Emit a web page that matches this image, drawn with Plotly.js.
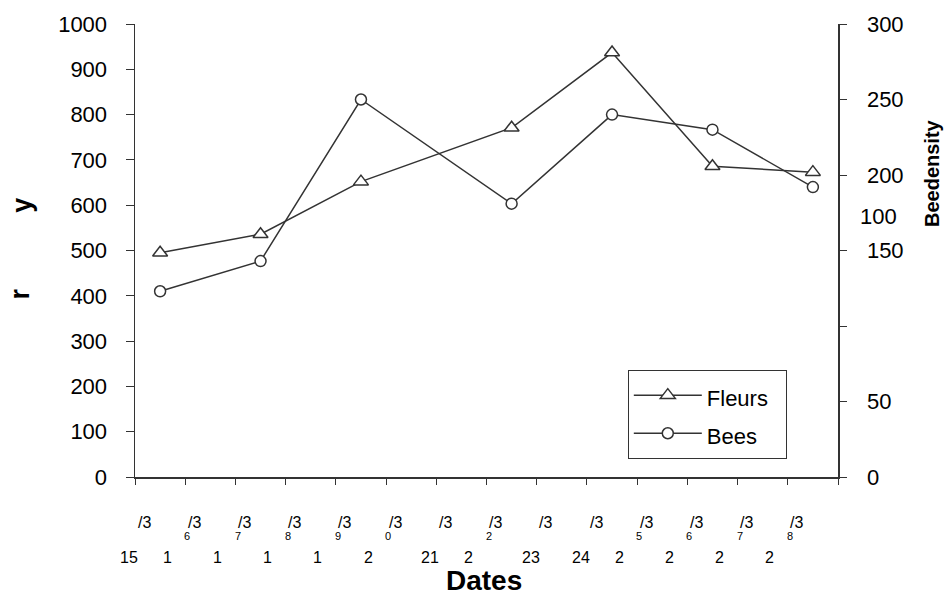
<!DOCTYPE html>
<html>
<head>
<meta charset="utf-8">
<script src="https://cdn.plot.ly/plotly-3.0.1.min.js"></script>
<style>html,body{margin:0;padding:0;background:#fff;}#chart{width:946px;height:598px;}</style>
</head>
<body>
<div id="chart"></div>
<script>
// Categories (dates on x axis)
const dates = ['15/3','16/3','17/3','18/3','19/3','20/3','21/3','22/3','23/3','24/3','25/3','26/3','27/3','28/3'];
// Garbled tick label pieces as printed in the reference
const labelTop = ['/3','/3','/3','/3','/3','/3','/3','/3','/3','/3','/3','/3','/3','/3'];
const labelMid = ['','6','7','8','9','0','','2','','','5','6','7','8'];
const labelBot = ['15','1','1','1','1','2','21','2','23','24','2','2','2','2'];

// Observation dates
const obsDates = ['15/3','17/3','19/3','22/3','24/3','26/3','28/3'];
// Series values
const fleurs = [495, 536, 652, 771, 937, 686, 673];   // left axis
const bees   = [123, 143, 250, 181, 240, 230, 192];   // right axis
const seriesNames = ['Fleurs', 'Bees'];

// Axis ticks
const leftTicks = [0,100,200,300,400,500,600,700,800,900,1000];
const rightTicks = [0,50,100,150,200,250,300];
const rightTickText = ['0','50','','150','200','250','300'];
const strayRightLabel = '100';

const FONT = 'Liberation Sans, Arial, sans-serif';
const INK = '#333333';
const legendName = s => '<span style="font-size:22px">' + s + '&nbsp;&nbsp;</span>';

const traces = [
  {
    x: obsDates, y: fleurs, name: legendName(seriesNames[0]), type: 'scatter', mode: 'lines+markers',
    line: {color: INK, width: 1.5},
    marker: {symbol: 'triangle-up', size: 13, color: '#ffffff', line: {color: INK, width: 1.5}},
    xaxis: 'x', yaxis: 'y'
  },
  {
    x: obsDates, y: bees, name: legendName(seriesNames[1]), type: 'scatter', mode: 'lines+markers',
    line: {color: INK, width: 1.5},
    marker: {symbol: 'circle', size: 11, color: '#ffffff', line: {color: INK, width: 1.5}},
    xaxis: 'x', yaxis: 'y2'
  }
];

const annotations = [];
dates.forEach((d, i) => {
  annotations.push({xref: 'x', yref: 'paper', x: d, y: 0, text: labelTop[i], showarrow: false,
    xanchor: 'center', yanchor: 'middle', xshift: -16, yshift: -45, font: {family: FONT, size: 16, color: '#000'}});
  if (labelMid[i]) annotations.push({xref: 'x', yref: 'paper', x: d, y: 0, text: labelMid[i], showarrow: false,
    xanchor: 'center', yanchor: 'middle', xshift: -23, yshift: -59, font: {family: FONT, size: 11, color: '#000'}});
  annotations.push({xref: 'x', yref: 'paper', x: d, y: 0, text: labelBot[i], showarrow: false,
    xanchor: 'center', yanchor: 'middle', xshift: labelBot[i].length > 1 ? -31 : -43, yshift: -80,
    font: {family: FONT, size: 16, color: '#000'}});
});
annotations.push({xref: 'paper', yref: 'paper', x: 0.497, y: -0.228, text: '<b>Dates</b>', showarrow: false,
  xanchor: 'center', yanchor: 'middle', font: {family: FONT, size: 28, color: '#000'}});
annotations.push({xref: 'paper', yref: 'paper', x: -0.160, y: 0.600, text: '<b>y</b>', textangle: -90, showarrow: false,
  xanchor: 'center', yanchor: 'middle', font: {family: FONT, size: 27, color: '#000'}});
annotations.push({xref: 'paper', yref: 'paper', x: -0.163, y: 0.404, text: '<b>r</b>', textangle: -90, showarrow: false,
  xanchor: 'center', yanchor: 'middle', font: {family: FONT, size: 27, color: '#000'}});
annotations.push({xref: 'paper', yref: 'paper', x: 1.1337, y: 0.671, text: '<b>Beedensity</b>', textangle: -90, showarrow: false,
  xanchor: 'center', yanchor: 'middle', font: {family: FONT, size: 20, color: '#000'}});
annotations.push({xref: 'paper', yref: 'paper', x: 1, y: 0.574, text: strayRightLabel, showarrow: false,
  xanchor: 'left', yanchor: 'middle', xshift: 20, font: {family: FONT, size: 22, color: '#000'}});

const layout = {
  width: 946, height: 598,
  margin: {l: 135, r: 108, t: 24, b: 121, pad: 0},
  paper_bgcolor: '#ffffff', plot_bgcolor: '#ffffff',
  font: {family: FONT, color: '#000'},
  showlegend: true,
  legend: {x: 0.701, y: 0.236, xanchor: 'left', yanchor: 'top', bgcolor: '#ffffff',
    bordercolor: INK, borderwidth: 1, font: {family: FONT, size: 27, color: '#000'},
    itemwidth: 68, tracegroupgap: 0},
  xaxis: {type: 'category', categoryorder: 'array', categoryarray: dates, range: [-0.5, dates.length - 0.5],
    showticklabels: false, ticks: 'outside', tickson: 'boundaries', ticklen: 6, tickcolor: INK, tickwidth: 1,
    showline: true, linecolor: INK, linewidth: 1.5, showgrid: false, zeroline: false, fixedrange: true},
  yaxis: {range: [0, 1000], tickvals: leftTicks, ticks: 'outside', ticklen: 8, tickcolor: INK, tickwidth: 1,
    showline: true, linecolor: INK, linewidth: 1.5, showgrid: false, zeroline: false,
    tickfont: {family: FONT, size: 22, color: '#000'}, ticklabelstandoff: 14},
  yaxis2: {range: [0, 300], overlaying: 'y', side: 'right', anchor: 'x', tickvals: rightTicks, ticktext: rightTickText,
    ticks: 'outside', ticklen: 7, tickcolor: INK, tickwidth: 1, showline: true, linecolor: INK, linewidth: 1.5,
    showgrid: false, zeroline: false, tickfont: {family: FONT, size: 22, color: '#000'}, ticklabelstandoff: 16},
  yaxis3: {range: [0, 300], overlaying: 'y', side: 'right', anchor: 'x', tickvals: rightTicks,
    ticks: 'inside', ticklen: 9, tickcolor: INK, tickwidth: 1, showline: false, showticklabels: false,
    showgrid: false, zeroline: false},
  annotations: annotations
};

Plotly.newPlot('chart', traces, layout, {staticPlot: true, displayModeBar: false});
</script>
</body>
</html>
